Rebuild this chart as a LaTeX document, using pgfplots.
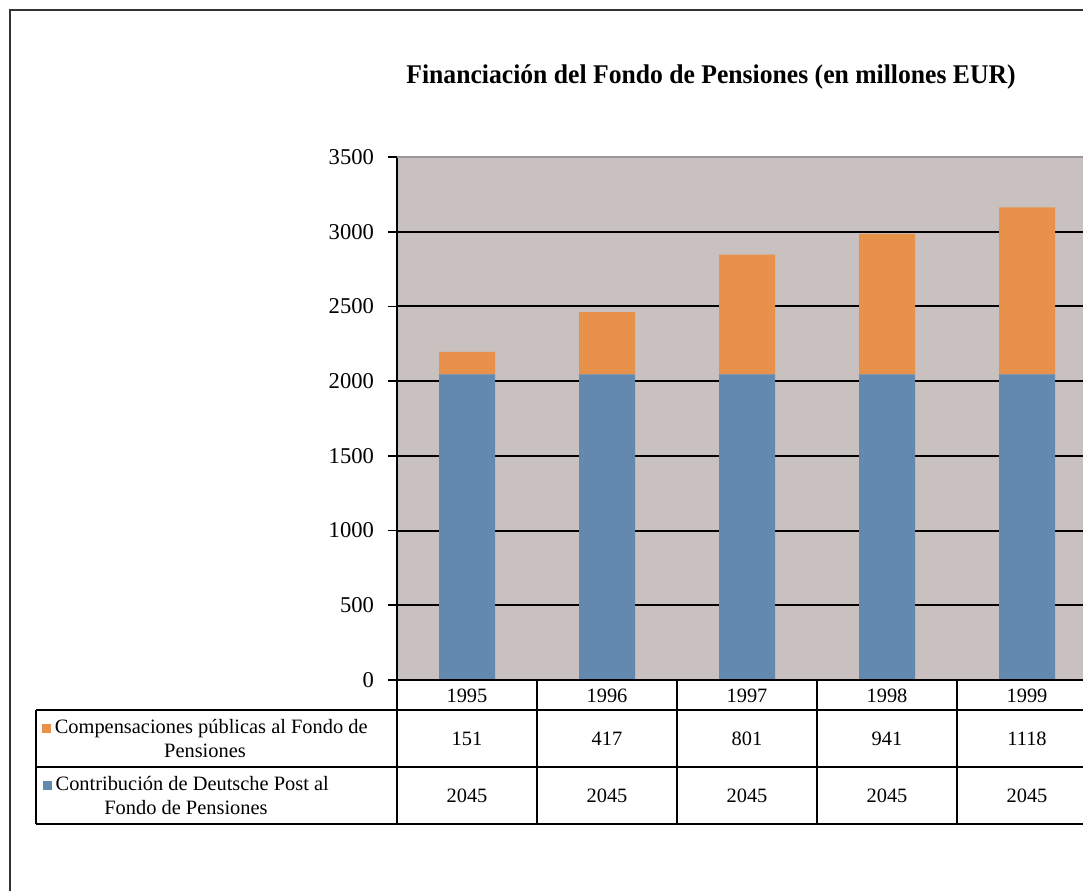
\documentclass[border=0pt]{standalone}
\usepackage{pgfplots}
\pgfplotsset{compat=1.18}
\usepackage{fontspec}
\setmainfont{Liberation Serif}
\definecolor{bgc}{HTML}{C9C1BF}
\definecolor{orc}{HTML}{E8914A}
\definecolor{blc}{HTML}{6489AF}
\definecolor{framec}{HTML}{333333}
\begin{document}
\begin{tikzpicture}[x=1pt,y=1pt]
\useasboundingbox (0,0) rectangle (541.5,445);
% outer frame (left and top visible)
\draw[framec, line width=1pt] (5,-5) -- (5,440) -- (560,440);
% title
\node at (355.5,406.5) {\scalebox{0.95}[1]{\fontsize{13.5}{16}\selectfont\bfseries Financiación del Fondo de Pensiones (en millones EUR)}};
\begin{axis}[
  at={(198.5pt,105pt)}, anchor=south west,
  scale only axis, width=350pt, height=261.5pt,
  xmin=-0.5, xmax=4.5, ymin=0, ymax=3500,
  axis background/.style={fill=bgc},
  axis x line*=bottom, axis y line*=left,
  axis line style={black, line width=0.8pt},
  ybar stacked, bar width=0.4,
  xtick=data, xticklabels={1995,1996,1997,1998,1999},
  xtick style={draw=none},
  xticklabel style={anchor=center, yshift=-3.5pt, font=\fontsize{10.2}{12}\selectfont},
  ytick={0,500,...,3000},
  extra y ticks={3500},
  extra y tick style={grid style={draw=gray!80, line width=1pt}},
  tick align=outside, major tick length=4.5pt,
  ytick style={black, line width=0.8pt},
  ymajorgrids, grid style={black, line width=1pt},
  yticklabel style={font=\fontsize{11.3}{13}\selectfont, xshift=-3.5pt},
  /pgf/number format/assume math mode=true,
  /pgf/number format/1000 sep={},
  clip=false,
]
\addplot[fill=blc, draw=none] coordinates {(0,2045) (1,2045) (2,2045) (3,2045) (4,2045)};
\addplot[fill=orc, draw=none] coordinates {(0,151) (1,417) (2,801) (3,941) (4,1118)};
\end{axis}
% data table
\begin{scope}[line width=0.8pt, black]
\draw (198.5,105) -- (560,105);
\draw (18,90) -- (560,90);
\draw (18,61.5) -- (560,61.5);
\draw (18,33) -- (560,33);
\draw (18,90) -- (18,33);
\draw (198.5,105) -- (198.5,33);
\foreach \xx in {268.5,338.5,408.5,478.5,548.5} \draw (\xx,105) -- (\xx,33);
\end{scope}
\begin{scope}[font=\fontsize{10.2}{12}\selectfont]
\foreach \v [count=\i from 0] in {151,417,801,941,1118} \node at (233.5+70*\i,75.75) {\v};
\foreach \v [count=\i from 0] in {2045,2045,2045,2045,2045} \node at (233.5+70*\i,47.25) {\v};
\node[align=center] at (102.5,75.75) {{\color{orc}\rule{4.5pt}{4.5pt}}\,Compensaciones públicas al Fondo de\\Pensiones};
\node[align=center] at (93,47.25) {{\color{blc}\rule{4.5pt}{4.5pt}}\,Contribución de Deutsche Post al\\Fondo de Pensiones};
\end{scope}
\end{tikzpicture}
\end{document}
